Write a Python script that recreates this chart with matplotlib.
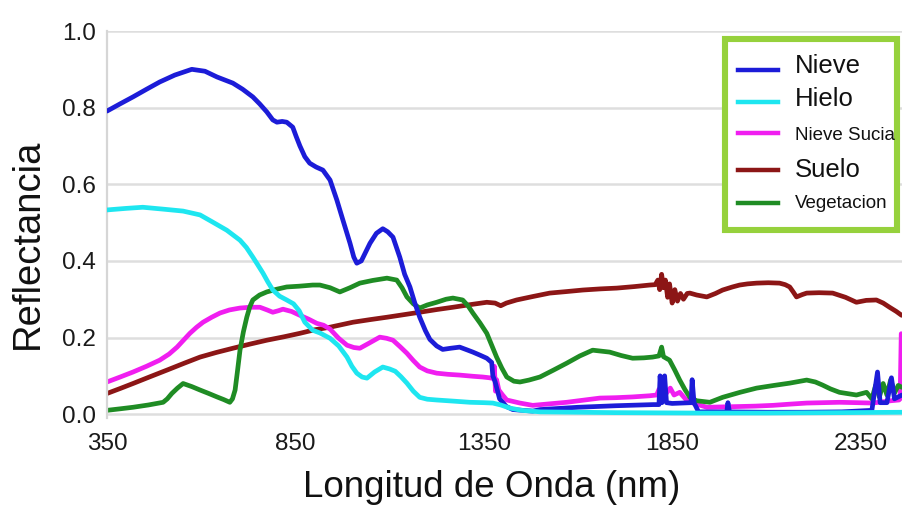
import matplotlib
matplotlib.use("Agg")
import matplotlib.pyplot as plt
from matplotlib.lines import Line2D
from matplotlib.patches import Rectangle

plt.rcParams['font.family'] = ['Liberation Sans', 'DejaVu Sans']

# ---- spectral reflectance curves (wavelength in nm, reflectance 0-1) ----
nieve_wl = [350, 385, 419, 455, 490, 530, 575, 610, 642, 684, 710, 737, 755, 774, 790, 801,
            815, 827, 843, 852, 862, 875, 888, 905, 923, 942, 960, 976, 995, 1005, 1013, 1025,
            1048, 1065, 1082, 1095, 1109, 1127, 1140, 1154, 1167, 1180, 1195, 1207, 1225, 1241,
            1262, 1286, 1305, 1321, 1340, 1358, 1371, 1374, 1380, 1392, 1410, 1427, 1480, 1500,
            1600, 1700, 1800, 1815, 1818, 1823, 1830, 1835, 1850, 1900, 1903, 1908, 1920, 1995,
            1998, 2002, 2100, 2200, 2300, 2380, 2395, 2402, 2420, 2432, 2440, 2460]
nieve_val = [0.791, 0.810, 0.828, 0.848, 0.867, 0.885, 0.900, 0.895, 0.880, 0.864, 0.848, 0.828,
             0.810, 0.789, 0.768, 0.762, 0.764, 0.762, 0.749, 0.725, 0.700, 0.672, 0.655, 0.645,
             0.637, 0.611, 0.559, 0.507, 0.446, 0.410, 0.394, 0.400, 0.446, 0.472, 0.484, 0.476,
             0.462, 0.410, 0.365, 0.332, 0.290, 0.253, 0.218, 0.195, 0.178, 0.169, 0.172, 0.175,
             0.168, 0.162, 0.154, 0.146, 0.135, 0.100, 0.085, 0.040, 0.020, 0.012, 0.008, 0.012,
             0.018, 0.022, 0.025, 0.025, 0.100, 0.030, 0.100, 0.030, 0.028, 0.030, 0.090, 0.030,
             0.006, 0.006, 0.030, 0.006, 0.005, 0.005, 0.006, 0.010, 0.110, 0.030, 0.030, 0.095,
             0.040, 0.050]

hielo_wl = [350, 400, 445, 500, 552, 597, 631, 668, 703, 720, 737, 750, 764, 777, 790, 808, 827,
            845, 860, 875, 896, 915, 942, 965, 987, 1000, 1013, 1027, 1040, 1060, 1082, 1100, 1115,
            1130, 1146, 1163, 1180, 1200, 1225, 1270, 1313, 1350, 1374, 1395, 1419, 1450, 1500,
            1700, 1900, 2100, 2300, 2460]
hielo_val = [0.533, 0.537, 0.540, 0.535, 0.530, 0.520, 0.501, 0.480, 0.454, 0.435, 0.410, 0.390,
             0.368, 0.345, 0.324, 0.308, 0.298, 0.288, 0.270, 0.240, 0.219, 0.212, 0.198, 0.178,
             0.149, 0.125, 0.107, 0.097, 0.094, 0.110, 0.123, 0.118, 0.112, 0.098, 0.081, 0.060,
             0.044, 0.039, 0.037, 0.034, 0.031, 0.030, 0.029, 0.024, 0.016, 0.010, 0.006, 0.004,
             0.003, 0.003, 0.004, 0.005]

sucia_wl = [350, 385, 419, 455, 490, 515, 536, 553, 570, 588, 605, 628, 650, 675, 703, 730, 756,
            775, 790, 805, 817, 840, 862, 885, 907, 925, 942, 965, 987, 1005, 1021, 1045, 1074,
            1092, 1109, 1128, 1146, 1163, 1180, 1200, 1225, 1255, 1286, 1320, 1347, 1365, 1375,
            1378, 1381, 1384, 1390, 1400, 1411, 1446, 1480, 1525, 1570, 1610, 1658, 1700, 1745,
            1790, 1809, 1815, 1820, 1825, 1835, 1845, 1855, 1870, 1885, 1905, 1942, 1985, 2029,
            2070, 2117, 2160, 2207, 2250, 2294, 2340, 2382, 2430, 2452, 2455, 2458]
sucia_val = [0.084, 0.097, 0.110, 0.125, 0.141, 0.157, 0.175, 0.193, 0.211, 0.227, 0.240, 0.253,
             0.264, 0.272, 0.277, 0.279, 0.279, 0.272, 0.266, 0.270, 0.274, 0.268, 0.258, 0.248,
             0.237, 0.232, 0.222, 0.198, 0.180, 0.174, 0.172, 0.185, 0.201, 0.198, 0.193, 0.176,
             0.159, 0.140, 0.123, 0.113, 0.107, 0.104, 0.102, 0.099, 0.097, 0.095, 0.093, 0.125,
             0.060, 0.090, 0.063, 0.050, 0.037, 0.029, 0.023, 0.027, 0.031, 0.036, 0.042, 0.043,
             0.045, 0.048, 0.050, 0.065, 0.050, 0.070, 0.055, 0.068, 0.050, 0.057, 0.040, 0.029,
             0.018, 0.019, 0.020, 0.021, 0.023, 0.026, 0.029, 0.030, 0.031, 0.030, 0.029, 0.035,
             0.037, 0.040, 0.210]

suelo_wl = [350, 385, 419, 465, 509, 555, 597, 640, 684, 730, 774, 820, 862, 900, 942, 1003, 1050,
            1093, 1140, 1180, 1225, 1268, 1315, 1358, 1380, 1395, 1410, 1437, 1480, 1525, 1570,
            1613, 1660, 1703, 1750, 1790, 1805, 1812, 1817, 1822, 1827, 1832, 1838, 1843, 1850,
            1857, 1864, 1872, 1880, 1890, 1897, 1915, 1942, 1965, 1984, 2010, 2029, 2050, 2074,
            2105, 2135, 2150, 2162, 2172, 2180, 2195, 2207, 2240, 2276, 2310, 2339, 2365, 2392,
            2410, 2427, 2445, 2459]
suelo_val = [0.054, 0.067, 0.080, 0.098, 0.115, 0.133, 0.149, 0.161, 0.172, 0.183, 0.193, 0.202,
             0.211, 0.220, 0.227, 0.240, 0.247, 0.253, 0.260, 0.266, 0.273, 0.279, 0.286, 0.292,
             0.290, 0.283, 0.290, 0.298, 0.307, 0.316, 0.320, 0.324, 0.327, 0.329, 0.333, 0.337,
             0.338, 0.350, 0.325, 0.365, 0.330, 0.350, 0.305, 0.340, 0.290, 0.325, 0.295, 0.315,
             0.300, 0.315, 0.316, 0.311, 0.306, 0.315, 0.324, 0.332, 0.337, 0.340, 0.342, 0.343,
             0.342, 0.338, 0.332, 0.318, 0.306, 0.312, 0.316, 0.317, 0.316, 0.305, 0.292, 0.297,
             0.298, 0.290, 0.279, 0.268, 0.258]

veg_wl = [350, 385, 419, 460, 499, 510, 522, 537, 552, 575, 597, 620, 642, 660, 676, 683, 690,
          696, 703, 712, 721, 729, 737, 755, 774, 800, 827, 860, 896, 915, 942, 968, 995, 1021,
          1055, 1093, 1119, 1133, 1146, 1163, 1180, 1200, 1225, 1250, 1268, 1294, 1308, 1321,
          1340, 1358, 1371, 1384, 1398, 1411, 1430, 1446, 1470, 1499, 1535, 1570, 1605, 1639,
          1684, 1715, 1745, 1775, 1798, 1815, 1822, 1827, 1843, 1857, 1870, 1884, 1897, 1915,
          1950, 1984, 2030, 2074, 2120, 2162, 2207, 2230, 2249, 2270, 2294, 2339, 2366, 2380,
          2390, 2400, 2410, 2420, 2430, 2440, 2450, 2460]
veg_val = [0.010, 0.014, 0.018, 0.024, 0.031, 0.040, 0.054, 0.068, 0.080, 0.072, 0.063, 0.054,
           0.045, 0.038, 0.031, 0.040, 0.063, 0.110, 0.167, 0.215, 0.253, 0.280, 0.298, 0.311,
           0.319, 0.326, 0.332, 0.334, 0.337, 0.337, 0.330, 0.319, 0.330, 0.342, 0.349, 0.355,
           0.350, 0.330, 0.306, 0.288, 0.277, 0.285, 0.292, 0.300, 0.303, 0.298, 0.283, 0.264,
           0.238, 0.211, 0.180, 0.149, 0.120, 0.097, 0.086, 0.084, 0.089, 0.097, 0.115, 0.133,
           0.152, 0.167, 0.162, 0.153, 0.146, 0.147, 0.149, 0.152, 0.175, 0.150, 0.141, 0.115,
           0.089, 0.064, 0.044, 0.035, 0.031, 0.044, 0.057, 0.068, 0.075, 0.081, 0.089, 0.084,
           0.076, 0.066, 0.057, 0.050, 0.057, 0.040, 0.075, 0.045, 0.080, 0.050, 0.090, 0.055,
           0.075, 0.070]

names = ["Nieve", "Hielo", "Nieve Sucia", "Suelo", "Vegetacion"]
colors = ["#1c1cd8", "#1ee6f0", "#f01ef0", "#8c1616", "#1f8c24"]
x_ticks = [350, 850, 1350, 1850, 2350]
y_ticks = [0.0, 0.2, 0.4, 0.6, 0.8, 1.0]

series = {
    "Nieve": (nieve_wl, nieve_val),
    "Hielo": (hielo_wl, hielo_val),
    "Nieve Sucia": (sucia_wl, sucia_val),
    "Suelo": (suelo_wl, suelo_val),
    "Vegetacion": (veg_wl, veg_val),
}
line_z = {"Suelo": 2.0, "Vegetacion": 2.4, "Nieve": 2.6, "Nieve Sucia": 2.2, "Hielo": 2.8}

W, H = 902, 505
fig = plt.figure(figsize=(W / 100, H / 100), dpi=100)
ax = fig.add_axes([107 / W, (H - 418) / H, (W - 107) / W, 387 / H])

for name in names:
    wl, val = series[name]
    ax.plot(wl, val, color=colors[names.index(name)], lw=3.4, zorder=line_z[name],
            solid_joinstyle="round", solid_capstyle="round")

ax.set_xlim(350, 2460)
ax.set_ylim(-0.01, 1.0)
ax.set_xticks(x_ticks)
ax.set_xticklabels([str(t) for t in x_ticks])
ax.set_yticks(y_ticks)
ax.set_yticklabels([f"{t:.1f}" for t in y_ticks])
ax.yaxis.grid(True, color="#dedede", lw=1.8)
ax.set_axisbelow(True)
for s in ("top", "right", "bottom"):
    ax.spines[s].set_visible(False)
ax.spines["left"].set_color("#d6d6d6")
ax.spines["left"].set_linewidth(1.6)
ax.tick_params(axis="both", length=0, labelsize=17.5, colors="#1a1a1a")
ax.tick_params(axis="y", pad=8)
ax.tick_params(axis="x", pad=11)

fig.text(492 / W, 8 / H, "Longitud de Onda (nm)", fontsize=26.5,
         ha="center", va="baseline", color="#111111")
fig.text(28 / W, (H - 244) / H, "Reflectancia", fontsize=27.5, rotation=90,
         ha="center", va="center", color="#111111")

# legend box
def fx(px):
    return px / W

def fy(py):
    return (H - py) / H

frame = Rectangle((fx(725), fy(230)), fx(897) - fx(725), fy(38.5) - fy(230),
                  transform=fig.transFigure, facecolor="white",
                  edgecolor="#96d13c", lw=4.4, zorder=5)
fig.add_artist(frame)

handle_y = [70, 102, 133, 170, 203]
text_base = [73, 106, 140, 177, 208]
text_size = [18.5, 18.5, 13.5, 18.5, 13.5]
for name, hy, ty, fs in zip(names, handle_y, text_base, text_size):
    c = colors[names.index(name)]
    fig.add_artist(Line2D([fx(738), fx(778)], [fy(hy), fy(hy)],
                          transform=fig.transFigure, color=c, lw=3.2, zorder=6))
    fig.text(fx(795), fy(ty), name, fontsize=fs, ha="left", va="baseline",
             color="#111111", zorder=6)

fig.savefig("out.png", dpi=100)
